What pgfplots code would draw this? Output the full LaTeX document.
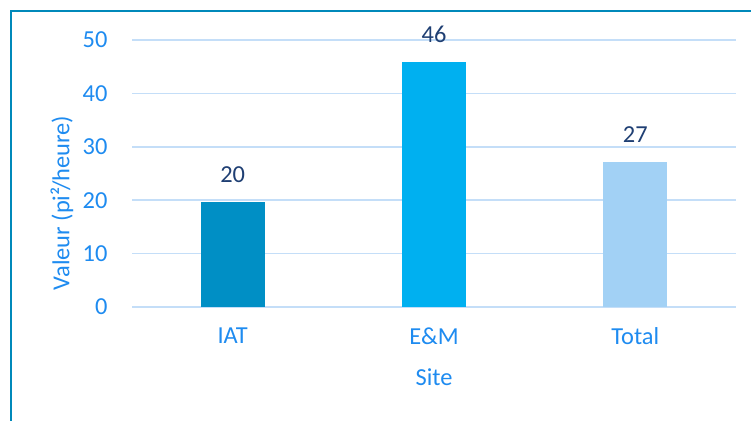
\documentclass[border=0pt]{standalone}
\usepackage{pgfplots}
\pgfplotsset{compat=1.18}
\usepackage{fontspec}
\setmainfont{Carlito}
\definecolor{framec}{HTML}{0089BA}
\definecolor{tickc}{HTML}{1E8BF0}
\definecolor{gridc}{HTML}{C4DEF8}
\definecolor{labc}{HTML}{1F3F73}
\definecolor{barA}{HTML}{008FC5}
\definecolor{barB}{HTML}{00B0F0}
\definecolor{barC}{HTML}{A2D1F5}
\newcommand{\cf}{\fontsize{24.5}{29}\selectfont}
\begin{document}
\begin{tikzpicture}
\useasboundingbox (0bp,0bp) rectangle (751bp,421bp);
\draw[framec, line width=2.2bp] (11bp,-20bp) -- (11bp,410bp) -- (780bp,410bp);
\begin{axis}[
  at={(132bp,114bp)}, anchor=south west,
  scale only axis, width=604bp, height=267bp,
  xmin=-0.5, xmax=2.5, ymin=0, ymax=50,
  axis lines*=left,
  y axis line style={draw=none},
  x axis line style={gridc, line width=1.6bp, -},
  ymajorgrids, grid style={gridc, line width=1.5bp},
  ytick={0,10,20,30,40,50},
  ytick style={draw=none},
  yticklabel style={text=tickc, font=\cf, xshift=-21bp},
  xtick={0,1,2}, xticklabels={IAT,E\&M,Total},
  xtick style={draw=none},
  xticklabel style={text=tickc, font=\cf, yshift=-13bp},
  extra x ticks={-0.5,0.5,1.5,2.5}, extra x tick labels={},
  extra x tick style={tick style={draw=gridc, line width=1.6bp}, major tick length=8bp, tick align=outside},
  /pgf/number format/assume math mode=true,
  xlabel={Site}, ylabel={Valeur (pi²/heure)},
  xlabel style={text=tickc, font=\cf, at={(axis description cs:0.5,-0.262)}, anchor=center},
  ylabel style={text=tickc, font=\cf, at={(axis description cs:-0.116,0.39)}, anchor=center},
  ybar, bar width=64bp, /pgf/bar shift=0pt,
  clip=false,
  nodes near coords, point meta=explicit symbolic,
  nodes near coords style={text=labc, font=\cf, anchor=base, yshift=19bp},
]
\addplot[fill=barA, draw=none] coordinates {(0,19.7) [20]};
\addplot[fill=barB, draw=none] coordinates {(1,45.9) [46]};
\addplot[fill=barC, draw=none] coordinates {(2,27.2) [27]};
\end{axis}
\end{tikzpicture}
\end{document}
